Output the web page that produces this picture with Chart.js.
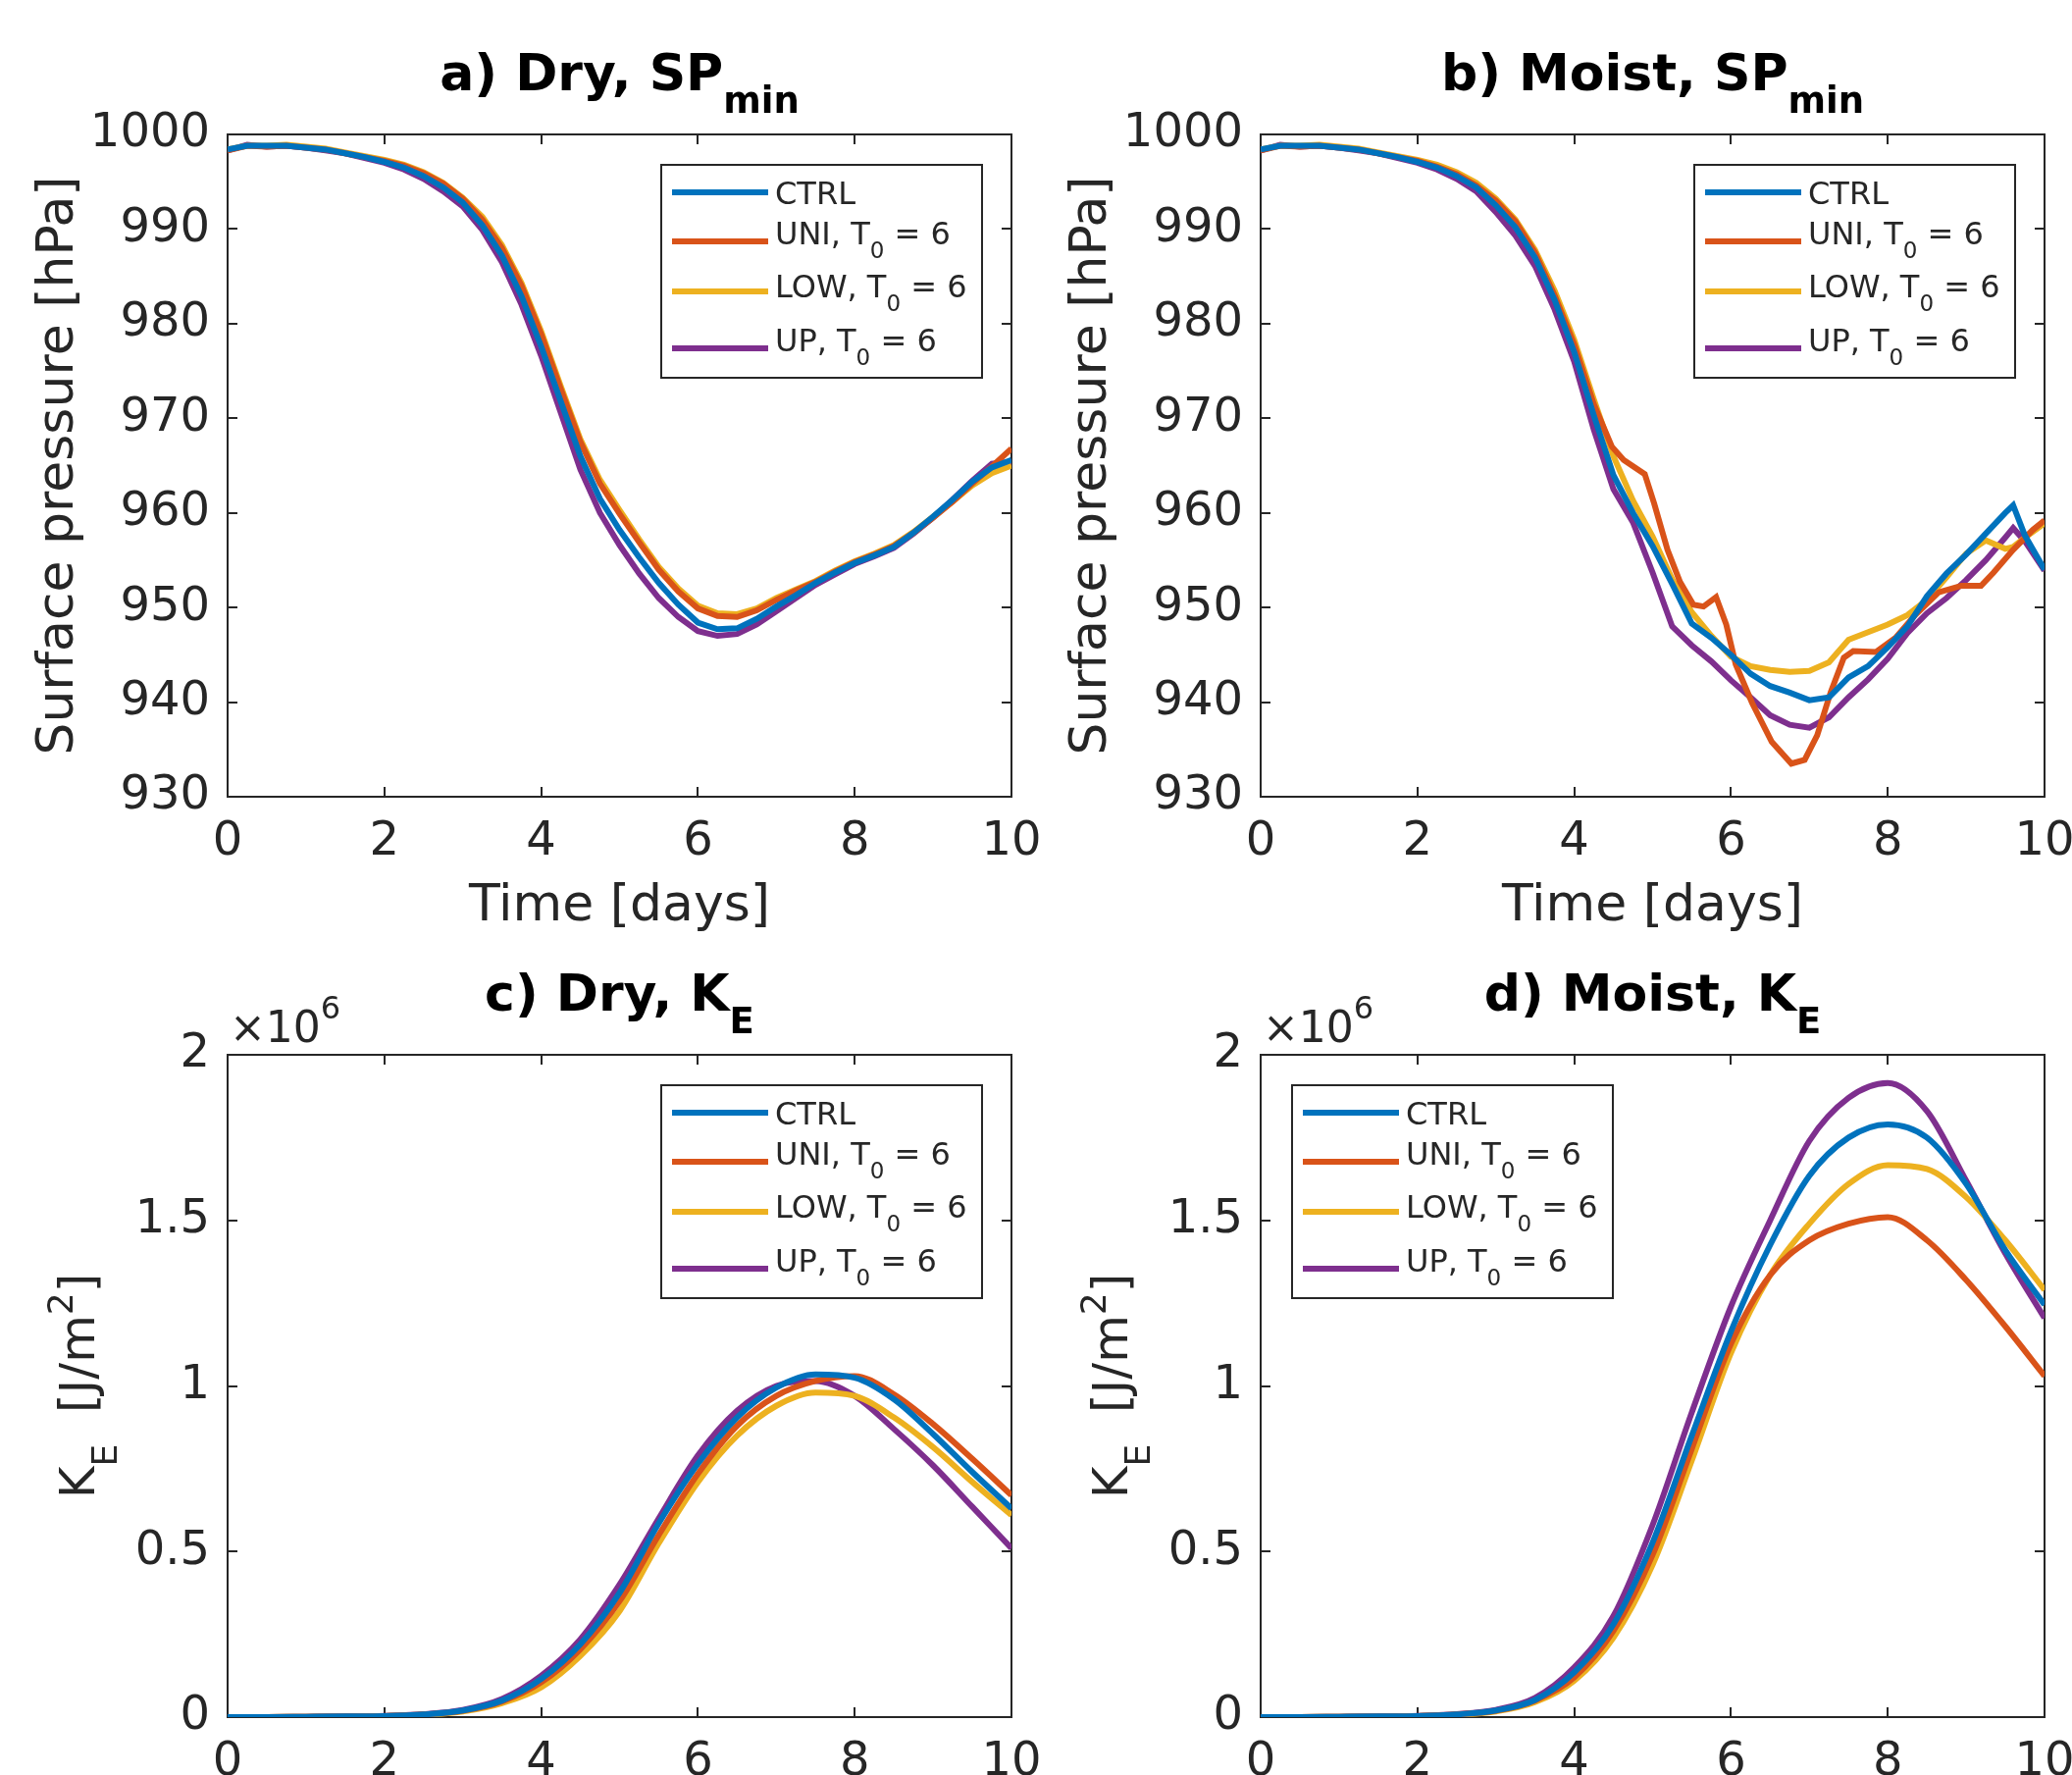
<!DOCTYPE html>
<html>
<head>
<meta charset="utf-8">
<script src="https://cdn.jsdelivr.net/npm/chart.js@4/dist/chart.umd.min.js"></script>
<style>
  html, body { margin: 0; padding: 0; background: #fff; width: 2112px; height: 1809px; overflow: hidden; }
  canvas { position: absolute; }
</style>
</head>
<body>
<canvas id="panelA" width="1100" height="1000" style="left:0px;top:0px"></canvas>
<canvas id="panelB" width="1100" height="1000" style="left:1053px;top:0px"></canvas>
<canvas id="panelC" width="1100" height="1000" style="left:0px;top:938px"></canvas>
<canvas id="panelD" width="1100" height="1000" style="left:1053px;top:938px"></canvas>
<script>
// ---- data ----
const seriesNames = ['CTRL', 'UNI, T_0 = 6', 'LOW, T_0 = 6', 'UP, T_0 = 6'];
const seriesColors = ['#0072BD', '#D95319', '#EDB120', '#7E2F8E'];

const days = [0, 0.25, 0.5, 0.75, 1, 1.25, 1.5, 1.75, 2, 2.25, 2.5, 2.75, 3, 3.25, 3.5, 3.75,
    4, 4.25, 4.5, 4.75, 5, 5.25, 5.5, 5.75, 6, 6.25, 6.5, 6.75, 7, 7.25, 7.5, 7.75,
    8, 8.25, 8.5, 8.75, 9, 9.25, 9.5, 9.75, 10];

// a) dry, minimum surface pressure [hPa]
const dryCtrlSP = [998.4, 998.8, 998.8, 998.8, 998.6, 998.4, 998.0, 997.6, 997.1, 996.5, 995.6, 994.4,
    992.8, 990.4, 987.2, 982.9, 977.6, 971.8, 966.0, 961.5, 958.2, 955.3, 952.6, 950.3, 948.4, 947.7,
    947.8, 948.8, 950.1, 951.3, 952.6, 953.7, 954.7, 955.5, 956.4, 957.9, 959.6, 961.4, 963.3, 964.8, 965.6];
const dryUniSP = [998.3, 998.8, 998.7, 998.8, 998.6, 998.4, 998.0, 997.6, 997.2, 996.7, 995.9, 994.8,
    993.2, 991.0, 988.0, 984.0, 978.9, 973.1, 967.5, 963.1, 959.9, 956.9, 954.0, 951.7, 949.9, 949.1,
    949.0, 949.7, 950.8, 951.8, 952.7, 953.8, 954.8, 955.6, 956.5, 957.9, 959.5, 961.2, 963.1, 964.9, 966.8];
const dryLowSP = [998.4, 998.8, 998.8, 998.9, 998.7, 998.5, 998.1, 997.7, 997.3, 996.8, 996.0, 994.9,
    993.3, 991.3, 988.3, 984.3, 979.2, 973.4, 967.8, 963.5, 960.3, 957.2, 954.3, 952.0, 950.2, 949.4,
    949.3, 949.9, 951.0, 951.9, 952.8, 953.9, 954.9, 955.7, 956.6, 958.0, 959.6, 961.2, 962.9, 964.2, 965.0];
const dryUpSP = [998.3, 998.9, 998.7, 998.8, 998.6, 998.3, 998.0, 997.5, 997.0, 996.3, 995.3, 994.0,
    992.4, 989.9, 986.5, 982.0, 976.6, 970.6, 964.6, 960.0, 956.6, 953.6, 951.0, 949.0, 947.5, 947.0,
    947.2, 948.2, 949.6, 951.0, 952.4, 953.5, 954.6, 955.4, 956.3, 957.8, 959.5, 961.4, 963.4, 965.2, 965.4];

// b) moist, minimum surface pressure [hPa]
const moistDays = [0, 0.25, 0.5, 0.75, 1, 1.25, 1.5, 1.75, 2, 2.25, 2.5, 2.75, 3, 3.25, 3.5, 3.75,
    4, 4.25, 4.5, 4.75, 5, 5.25, 5.5, 5.75, 6, 6.25, 6.5, 6.75, 7, 7.25, 7.5, 7.75,
    8, 8.25, 8.5, 8.75, 9, 9.25, 9.5, 9.6, 9.75, 10];
const moistCtrlSP = [998.4, 998.8, 998.8, 998.8, 998.6, 998.4, 998.0, 997.6, 997.1, 996.5, 995.6, 994.4,
    992.5, 990.2, 987.0, 982.5, 977.0, 970.3, 964.0, 960.0, 956.5, 952.5, 948.3, 946.8, 945.0, 943.0,
    941.7, 941.0, 940.2, 940.5, 942.6, 943.8, 945.8, 948.0, 951.2, 953.6, 955.6, 957.8, 960.0, 960.8, 957.6, 954.0];
const moistLowSP = [998.4, 998.8, 998.8, 998.9, 998.7, 998.5, 998.1, 997.7, 997.3, 996.8, 996.0, 994.9,
    993.2, 991.0, 987.8, 983.5, 978.3, 972.0, 966.0, 961.3, 957.5, 953.0, 949.5, 947.0, 944.8, 943.8,
    943.4, 943.2, 943.3, 944.2, 946.6, 947.4, 948.2, 949.2, 950.8, 953.2, 955.7, 957.1, 956.2, 956.4, 957.4, 958.9];
const moistUpSP = [998.3, 998.9, 998.7, 998.8, 998.6, 998.3, 998.0, 997.5, 997.0, 996.3, 995.3, 994.0,
    991.8, 989.3, 986.1, 981.5, 976.0, 968.8, 962.5, 959.0, 953.7, 948.0, 946.0, 944.3, 942.3, 940.5,
    938.6, 937.6, 937.3, 938.4, 940.5, 942.4, 944.6, 947.3, 949.4, 951.0, 952.9, 955.0, 957.4, 958.4, 957.0, 953.9];
const moistUniDays = [0, 0.25, 0.5, 0.75, 1, 1.25, 1.5, 1.75, 2, 2.25, 2.5, 2.75, 3, 3.25, 3.5, 3.75, 4,
    4.25, 4.48, 4.63, 4.9, 5.02, 5.19, 5.35, 5.52, 5.65, 5.81, 5.94, 6.06, 6.27, 6.52, 6.77, 6.94,
    7.1, 7.27, 7.44, 7.56, 7.85, 8.1, 8.35, 8.65, 8.94, 9.19, 9.35, 9.6, 9.85, 10];
const moistUniSP = [998.3, 998.8, 998.7, 998.8, 998.6, 998.4, 998.0, 997.6, 997.2, 996.6, 995.8, 994.6,
    993.0, 990.8, 987.5, 983.0, 977.8, 971.5, 967.0, 965.6, 964.1, 961.0, 956.1, 952.7, 950.3, 950.1,
    951.1, 948.2, 944.0, 939.9, 935.8, 933.5, 933.9, 936.5, 941.0, 944.7, 945.4, 945.3, 946.8, 949.2,
    951.6, 952.3, 952.3, 953.7, 956.1, 958.2, 959.2];

// c, d) eddy kinetic energy [10^6 J/m^2]
const keDays = [0, 0.5, 1, 1.5, 2, 2.5, 3, 3.5, 4, 4.5, 5, 5.5, 6, 6.5, 7, 7.5, 8, 8.5, 9, 9.5, 10];
const dryCtrlKE = [0, 0, 0.001, 0.002, 0.003, 0.008, 0.02, 0.05, 0.115, 0.22, 0.375, 0.585, 0.765, 0.905, 0.995, 1.035, 1.025, 0.96, 0.855, 0.74, 0.63];
const dryUniKE = [0, 0, 0.001, 0.002, 0.003, 0.008, 0.019, 0.047, 0.105, 0.205, 0.35, 0.55, 0.735, 0.88, 0.97, 1.015, 1.03, 0.975, 0.885, 0.78, 0.67];
const dryLowKE = [0, 0, 0.001, 0.001, 0.003, 0.007, 0.017, 0.042, 0.09, 0.185, 0.32, 0.525, 0.71, 0.85, 0.94, 0.98, 0.97, 0.905, 0.815, 0.71, 0.61];
const dryUpKE = [0, 0, 0.001, 0.002, 0.004, 0.009, 0.022, 0.055, 0.125, 0.235, 0.40, 0.60, 0.79, 0.925, 1.0, 1.015, 0.97, 0.87, 0.76, 0.635, 0.51];
const moistCtrlKE = [0, 0, 0.001, 0.002, 0.003, 0.008, 0.02, 0.052, 0.135, 0.28, 0.527, 0.85, 1.165, 1.426, 1.635, 1.75, 1.79, 1.75, 1.61, 1.41, 1.245];
const moistUniKE = [0, 0, 0.001, 0.002, 0.003, 0.008, 0.019, 0.05, 0.12, 0.26, 0.49, 0.81, 1.127, 1.335, 1.44, 1.49, 1.51, 1.44, 1.32, 1.18, 1.03];
const moistLowKE = [0, 0, 0.001, 0.001, 0.003, 0.007, 0.017, 0.045, 0.11, 0.24, 0.46, 0.775, 1.1, 1.335, 1.49, 1.61, 1.667, 1.655, 1.57, 1.44, 1.29];
const moistUpKE = [0, 0, 0.001, 0.002, 0.004, 0.009, 0.022, 0.058, 0.15, 0.305, 0.58, 0.92, 1.24, 1.5, 1.74, 1.87, 1.915, 1.83, 1.62, 1.40, 1.205];

const xTicks = [0, 2, 4, 6, 8, 10];
const spTicks = [930, 940, 950, 960, 970, 980, 990, 1000];
const keTicks = [0, 0.5, 1, 1.5, 2];

// ---- drawing helpers ----
const FONT = "'DejaVu Sans', sans-serif";
const AXIS = '#262626';
Chart.defaults.font.family = FONT;
Chart.defaults.color = AXIS;

// split 'T_0', 'SP_{min}', 'm^2' into plain/sub/sup pieces
function parseTex(str, size, weight) {
    const parts = [];
    let buf = '';
    for (let i = 0; i < str.length; i++) {
        const c = str[i];
        if (c === '_' || c === '^') {
            if (buf) { parts.push({ t: buf, size: size, weight: weight, dy: 0 }); buf = ''; }
            let tok;
            if (str[i + 1] === '{') {
                const end = str.indexOf('}', i);
                tok = str.slice(i + 2, end);
                i = end;
            } else {
                tok = str[i + 1];
                i++;
            }
            const s = Math.round(size * 0.72);
            parts.push({ t: tok, size: s, weight: weight, dy: c === '_' ? size * 0.45 : -size * 0.45 });
        } else {
            buf += c;
        }
    }
    if (buf) parts.push({ t: buf, size: size, weight: weight, dy: 0 });
    return parts;
}

function drawRich(ctx, parts, x, y, align) {
    ctx.textBaseline = 'alphabetic';
    ctx.textAlign = 'left';
    let w = 0;
    parts.forEach(p => {
        ctx.font = (p.weight || 'normal') + ' ' + p.size + 'px ' + FONT;
        p.w = ctx.measureText(p.t).width;
        w += p.w;
    });
    let cx = align === 'center' ? x - w / 2 : x;
    parts.forEach(p => {
        ctx.font = (p.weight || 'normal') + ' ' + p.size + 'px ' + FONT;
        ctx.fillText(p.t, cx, y + p.dy);
        cx += p.w;
    });
}

const decor = {
    id: 'decor',
    beforeDatasetsDraw(chart, args, opts) {
        const { ctx, chartArea: a, scales } = chart;
        const tl = 10;
        ctx.save();
        ctx.strokeStyle = AXIS;
        ctx.lineWidth = 2;
        ctx.beginPath();
        scales.x.ticks.forEach(t => {
            const px = Math.round(scales.x.getPixelForValue(t.value));
            ctx.moveTo(px, a.bottom); ctx.lineTo(px, a.bottom - tl);
            ctx.moveTo(px, a.top); ctx.lineTo(px, a.top + tl);
        });
        scales.y.ticks.forEach(t => {
            const py = Math.round(scales.y.getPixelForValue(t.value));
            ctx.moveTo(a.left, py); ctx.lineTo(a.left + tl, py);
            ctx.moveTo(a.right, py); ctx.lineTo(a.right - tl, py);
        });
        ctx.stroke();
        ctx.strokeRect(a.left, a.top, a.right - a.left, a.bottom - a.top);
        ctx.restore();
    },
    afterDraw(chart, args, opts) {
        const { ctx, chartArea: a } = chart;
        ctx.save();
        // title
        ctx.fillStyle = '#000';
        drawRich(ctx, parseTex(opts.title, 52, 'bold'), (a.left + a.right) / 2, a.top - 45, 'center');
        ctx.fillStyle = AXIS;
        // rotated y label with sub/superscripts
        if (opts.yLabel) {
            ctx.save();
            ctx.translate(a.left - 136, (a.top + a.bottom) / 2);
            ctx.rotate(-Math.PI / 2);
            drawRich(ctx, parseTex(opts.yLabel, 50, 'normal'), 0, 0, 'center');
            ctx.restore();
        }
        // exponent
        if (opts.exponent) {
            drawRich(ctx, [{ t: '\u00d710', size: 44, dy: 0 }, { t: opts.exponent, size: 32, dy: -24 }],
                a.left + 2, a.top - 13, 'left');
        }
        // legend box
        const w = 327, h = 217;
        const x0 = opts.legendSide === 'left' ? a.left + 32 : a.right - 30 - w;
        const y0 = a.top + 31;
        ctx.fillStyle = '#fff';
        ctx.fillRect(x0, y0, w, h);
        ctx.strokeStyle = AXIS;
        ctx.lineWidth = 2;
        ctx.strokeRect(x0, y0, w, h);
        const lineY = [28, 78, 129, 187];
        const textY = [40, 81, 135, 190];
        chart.data.datasets.forEach((ds, i) => {
            ctx.strokeStyle = ds.borderColor;
            ctx.lineWidth = 6;
            ctx.beginPath();
            ctx.moveTo(x0 + 11, y0 + lineY[i]);
            ctx.lineTo(x0 + 109, y0 + lineY[i]);
            ctx.stroke();
            ctx.fillStyle = AXIS;
            drawRich(ctx, parseTex(ds.label, 32, 'normal'), x0 + 116, y0 + textY[i], 'left');
        });
        ctx.restore();
    }
};

function makeSeries(xs, ys) {
    return xs.map((x, i) => ({ x: x, y: ys[i] }));
}

function makePanel(id, sets, yCfg, deco, smooth) {
    const datasets = sets.map((s, i) => ({
        label: seriesNames[i],
        data: makeSeries(s[0], s[1]),
        borderColor: seriesColors[i],
        backgroundColor: seriesColors[i],
        borderWidth: 6,
        pointRadius: 0,
        fill: false,
        cubicInterpolationMode: smooth ? 'monotone' : 'default',
        tension: 0
    }));
    return new Chart(document.getElementById(id), {
        type: 'line',
        data: { datasets: datasets },
        options: {
            responsive: false,
            animation: false,
            layout: { padding: { left: 0, top: 137, right: 69, bottom: 0 } },
            plugins: { legend: { display: false }, tooltip: { enabled: false }, decor: deco },
            scales: {
                x: {
                    type: 'linear', min: 0, max: 10,
                    afterBuildTicks: (s) => { s.ticks = xTicks.map(v => ({ value: v })); },
                    afterFit: (s) => { s.height = 188; },
                    grid: { display: false, drawTicks: false },
                    border: { display: false },
                    ticks: { font: { size: 48 }, padding: 18, color: AXIS, maxRotation: 0,
                        callback: (v) => String(v) },
                    title: { display: true, text: 'Time [days]', font: { size: 52 }, color: AXIS,
                        padding: { top: 0, bottom: 44 } }
                },
                y: Object.assign({
                    type: 'linear',
                    afterFit: (s) => { s.width = 232; },
                    grid: { display: false, drawTicks: false },
                    border: { display: false }
                }, yCfg)
            }
        },
        plugins: [decor]
    });
}

const spAxis = {
    min: 930, max: 1000,
    afterBuildTicks: (s) => { s.ticks = spTicks.map(v => ({ value: v })); },
    ticks: { font: { size: 48 }, padding: 18, color: AXIS, callback: (v) => String(v) },
    title: { display: true, text: 'Surface pressure [hPa]', font: { size: 52 }, color: AXIS,
        padding: { top: 29, bottom: 0 } }
};
const keAxis = {
    min: 0, max: 2,
    afterBuildTicks: (s) => { s.ticks = keTicks.map(v => ({ value: v })); },
    ticks: { font: { size: 48 }, padding: 18, color: AXIS, callback: (v) => String(v) },
    title: { display: false }
};

makePanel('panelA',
    [[days, dryCtrlSP], [days, dryUniSP], [days, dryLowSP], [days, dryUpSP]],
    spAxis, { title: 'a) Dry, SP_{min}', legendSide: 'right' }, false);
makePanel('panelB',
    [[moistDays, moistCtrlSP], [moistUniDays, moistUniSP], [moistDays, moistLowSP], [moistDays, moistUpSP]],
    spAxis, { title: 'b) Moist, SP_{min}', legendSide: 'right' }, false);
makePanel('panelC',
    [[keDays, dryCtrlKE], [keDays, dryUniKE], [keDays, dryLowKE], [keDays, dryUpKE]],
    keAxis, { title: 'c) Dry, K_E', legendSide: 'right', yLabel: 'K_E  [J/m^2]', exponent: '6' }, true);
makePanel('panelD',
    [[keDays, moistCtrlKE], [keDays, moistUniKE], [keDays, moistLowKE], [keDays, moistUpKE]],
    keAxis, { title: 'd) Moist, K_E', legendSide: 'left', yLabel: 'K_E  [J/m^2]', exponent: '6' }, true);
</script>
</body>
</html>
